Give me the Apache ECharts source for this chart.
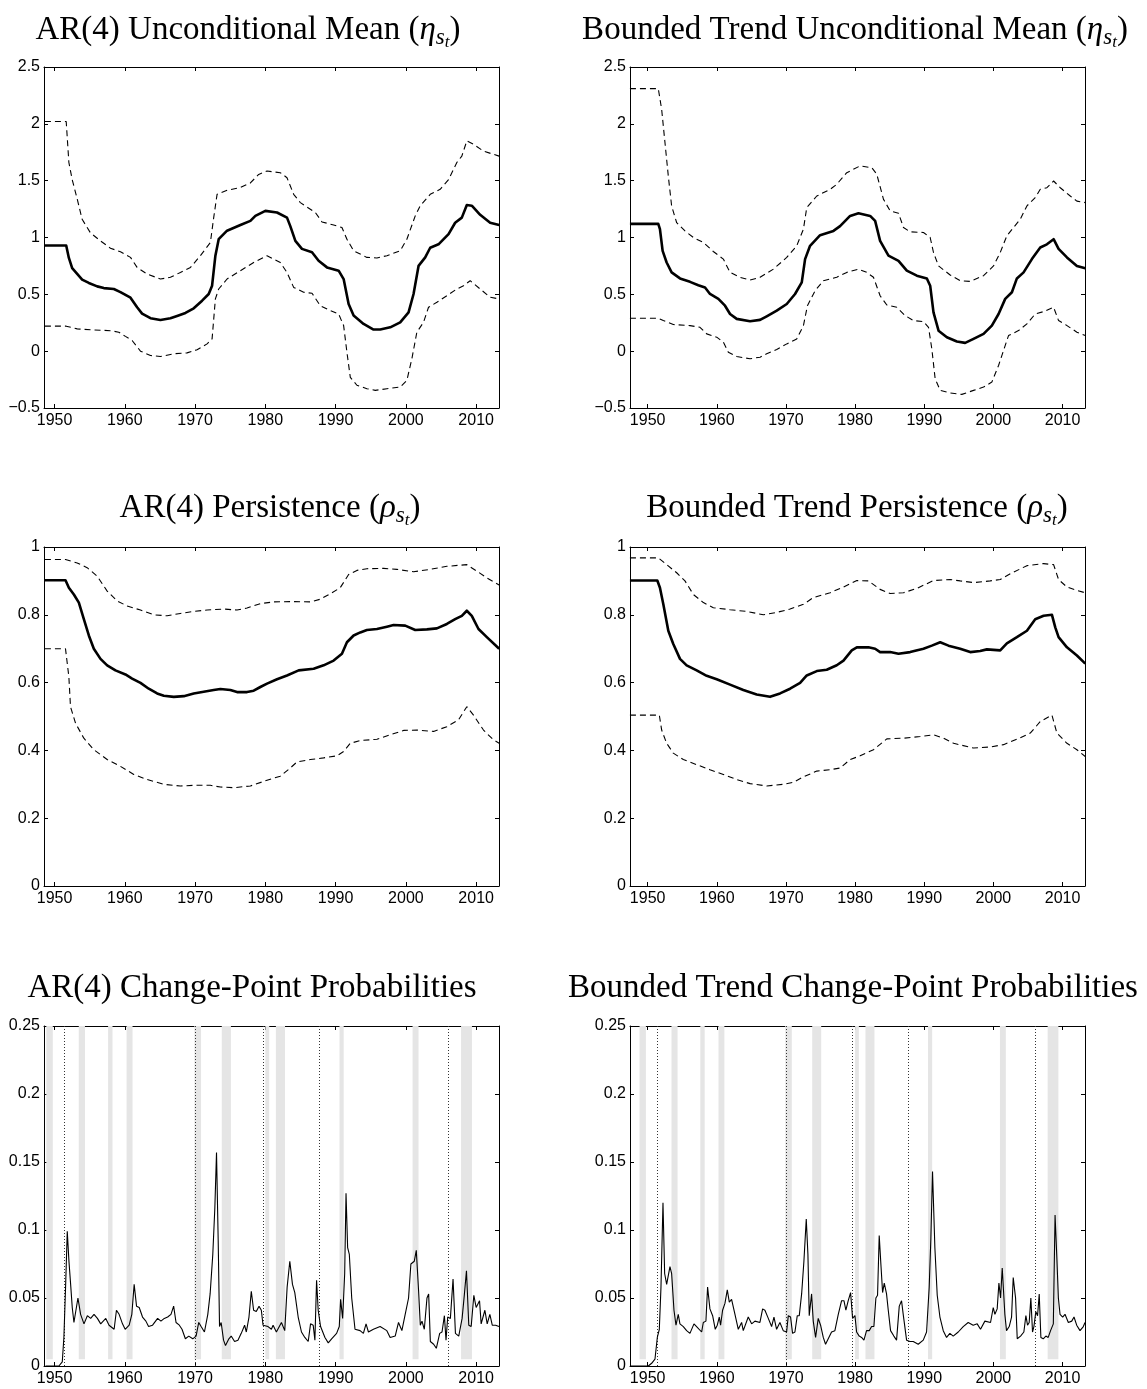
<!DOCTYPE html>
<html>
<head>
<meta charset="utf-8">
<script src="https://cdn.jsdelivr.net/npm/echarts@6/dist/echarts.min.js"></script>
<style>
html,body{margin:0;padding:0;background:#fff;}
#chart{width:1147px;height:1389px;}
</style>
</head>
<body>
<div id="chart"></div>
<script>
// ---------------- DATA ----------------
const xTickYears = [1950, 1960, 1970, 1980, 1990, 2000, 2010];

// AR(4) unconditional mean: [year, value]
const arMeanMid = [[1948.63,0.93],[1951.66,0.93],[1952.04,0.82],[1952.51,0.73],[1953.22,0.68],[1953.93,0.63],[1954.88,0.60],[1956.07,0.57],[1957.01,0.555],[1958.44,0.547],[1959.38,0.52],[1960.81,0.47],[1961.75,0.386],[1962.46,0.33],[1963.65,0.29],[1965.07,0.275],[1966.49,0.29],[1967.44,0.31],[1968.63,0.336],[1969.81,0.377],[1971.0,0.444],[1971.94,0.503],[1972.42,0.576],[1972.89,0.84],[1973.36,0.985],[1974.55,1.06],[1976.45,1.11],[1977.87,1.146],[1978.58,1.19],[1980.0,1.234],[1981.66,1.22],[1983.08,1.175],[1983.55,1.10],[1984.27,0.97],[1985.21,0.90],[1986.64,0.87],[1987.58,0.795],[1988.77,0.737],[1990.43,0.708],[1991.14,0.634],[1991.85,0.415],[1992.56,0.313],[1993.98,0.24],[1995.40,0.19],[1996.35,0.19],[1997.77,0.21],[1999.19,0.254],[2000.38,0.342],[2001.09,0.503],[2001.80,0.75],[2002.75,0.825],[2003.46,0.91],[2004.64,0.94],[2006.07,1.03],[2007.01,1.13],[2007.96,1.175],[2008.67,1.286],[2009.38,1.28],[2010.57,1.2],[2011.99,1.13],[2013.27,1.11]];
const arMeanUp = [[1948.63,2.02],[1951.66,2.02],[1952.04,1.66],[1952.51,1.51],[1953.22,1.34],[1953.93,1.16],[1955.12,1.04],[1956.54,0.97],[1957.96,0.906],[1959.38,0.874],[1960.81,0.825],[1961.75,0.737],[1963.18,0.678],[1965.07,0.635],[1966.49,0.65],[1967.91,0.693],[1969.34,0.737],[1970.76,0.84],[1972.18,0.956],[1972.65,1.175],[1973.13,1.38],[1974.55,1.415],[1976.45,1.44],[1977.87,1.48],[1979.05,1.555],[1980.24,1.585],[1982.13,1.57],[1983.08,1.526],[1984.03,1.38],[1984.98,1.307],[1987.11,1.22],[1988.06,1.137],[1989.72,1.11],[1990.90,1.088],[1991.61,0.985],[1992.56,0.883],[1994.45,0.825],[1995.88,0.82],[1997.30,0.84],[1999.19,0.883],[2000.14,0.985],[2001.33,1.19],[2002.04,1.28],[2003.46,1.38],[2004.88,1.424],[2006.07,1.51],[2007.25,1.66],[2007.96,1.716],[2008.67,1.85],[2009.62,1.82],[2011.04,1.76],[2013.27,1.716]];
const arMeanLo = [[1948.63,0.22],[1951.66,0.22],[1953.22,0.196],[1955.59,0.187],[1957.96,0.18],[1959.15,0.167],[1960.09,0.13],[1961.04,0.094],[1962.23,0.0],[1963.65,-0.038],[1965.07,-0.047],[1966.97,-0.023],[1968.86,-0.015],[1970.28,0.012],[1971.71,0.064],[1972.42,0.108],[1972.89,0.46],[1973.36,0.547],[1974.55,0.635],[1976.45,0.708],[1978.34,0.78],[1980.24,0.84],[1982.13,0.78],[1983.08,0.693],[1984.03,0.561],[1985.45,0.518],[1986.64,0.51],[1987.82,0.40],[1989.24,0.357],[1990.43,0.327],[1991.14,0.225],[1991.61,-0.01],[1992.09,-0.23],[1993.03,-0.30],[1994.45,-0.33],[1995.64,-0.345],[1997.30,-0.33],[1999.19,-0.316],[2000.14,-0.257],[2000.85,-0.067],[2001.56,0.167],[2002.51,0.254],[2003.22,0.386],[2004.41,0.43],[2005.83,0.488],[2007.25,0.547],[2008.20,0.576],[2009.15,0.62],[2010.57,0.547],[2011.99,0.474],[2013.27,0.46]];

// Bounded trend unconditional mean
const btMeanMid = [[1947.44,1.12],[1951.54,1.12],[1951.78,1.073],[1952.17,0.883],[1952.75,0.78],[1953.47,0.693],[1954.68,0.64],[1956.13,0.61],[1957.33,0.58],[1958.30,0.56],[1959.02,0.503],[1960.23,0.46],[1961.19,0.40],[1961.92,0.327],[1962.88,0.284],[1964.81,0.263],[1966.26,0.275],[1967.22,0.307],[1968.67,0.357],[1970.12,0.415],[1971.32,0.503],[1972.29,0.605],[1972.77,0.81],[1973.49,0.927],[1974.94,1.02],[1976.87,1.058],[1977.83,1.10],[1979.28,1.19],[1980.49,1.213],[1982.18,1.19],[1982.90,1.146],[1983.62,0.97],[1984.83,0.84],[1986.28,0.795],[1987.48,0.708],[1988.93,0.664],[1990.38,0.64],[1990.86,0.576],[1991.34,0.342],[1992.07,0.18],[1993.27,0.123],[1994.72,0.085],[1995.92,0.073],[1997.13,0.108],[1998.58,0.152],[1999.78,0.225],[2000.75,0.327],[2001.71,0.46],[2002.68,0.518],[2003.40,0.64],[2004.37,0.693],[2005.57,0.81],[2006.78,0.912],[2007.74,0.94],[2008.71,0.985],[2009.43,0.9],[2010.64,0.825],[2012.08,0.75],[2013.29,0.73]];
const btMeanUp = [[1947.44,2.31],[1951.54,2.31],[1952.03,2.126],[1952.51,1.833],[1952.99,1.54],[1953.47,1.278],[1954.20,1.13],[1955.40,1.058],[1956.61,1.0],[1958.06,0.956],[1959.50,0.877],[1960.95,0.81],[1961.92,0.693],[1963.36,0.65],[1964.81,0.626],[1966.26,0.65],[1968.19,0.722],[1970.12,0.825],[1971.56,0.927],[1972.53,1.073],[1973.01,1.263],[1974.46,1.365],[1976.39,1.424],[1977.35,1.468],[1978.80,1.57],[1980.73,1.63],[1982.42,1.614],[1983.14,1.556],[1984.11,1.336],[1985.07,1.234],[1986.28,1.213],[1987.0,1.088],[1987.96,1.05],[1989.89,1.044],[1990.86,1.0],[1991.34,0.868],[1992.07,0.75],[1993.75,0.67],[1995.20,0.62],[1996.65,0.614],[1998.58,0.664],[2000.02,0.75],[2000.99,0.868],[2001.95,1.015],[2002.92,1.088],[2003.88,1.16],[2004.85,1.278],[2006.05,1.35],[2006.78,1.424],[2007.74,1.438],[2008.71,1.497],[2009.67,1.438],[2011.12,1.365],[2012.08,1.32],[2013.29,1.307]];
const btMeanLo = [[1947.44,0.29],[1951.54,0.29],[1952.27,0.269],[1953.71,0.234],[1956.13,0.225],[1957.57,0.21],[1958.54,0.152],[1959.99,0.123],[1960.95,0.079],[1961.67,-0.009],[1962.88,-0.047],[1964.81,-0.067],[1966.26,-0.053],[1967.22,-0.023],[1968.67,0.015],[1970.12,0.064],[1971.56,0.108],[1972.53,0.225],[1973.11,0.40],[1974.22,0.532],[1975.42,0.62],[1977.35,0.65],[1978.80,0.693],[1980.49,0.722],[1981.69,0.693],[1982.66,0.65],[1983.62,0.488],[1984.59,0.406],[1986.04,0.386],[1987.24,0.313],[1988.45,0.269],[1989.89,0.26],[1990.62,0.21],[1991.10,0.02],[1991.58,-0.243],[1992.31,-0.345],[1993.75,-0.368],[1995.44,-0.38],[1997.13,-0.345],[1998.58,-0.316],[1999.78,-0.272],[2000.75,-0.126],[2001.47,0.006],[2002.19,0.137],[2003.64,0.181],[2004.85,0.24],[2006.05,0.327],[2007.26,0.348],[2008.71,0.386],[2009.43,0.269],[2010.64,0.225],[2012.08,0.167],[2013.29,0.137]];

// AR(4) persistence
const arPersMid = [[1948.63,0.902],[1951.56,0.902],[1952.04,0.880],[1952.75,0.860],[1953.46,0.836],[1954.17,0.787],[1954.88,0.739],[1955.59,0.700],[1956.54,0.670],[1957.49,0.651],[1958.67,0.636],[1960.09,0.624],[1961.04,0.612],[1962.23,0.599],[1963.41,0.582],[1964.60,0.568],[1965.55,0.561],[1966.97,0.558],[1968.39,0.560],[1969.81,0.568],[1971.23,0.573],[1972.65,0.578],[1973.60,0.581],[1975.02,0.578],[1975.97,0.572],[1977.39,0.572],[1978.34,0.576],[1979.29,0.587],[1980.24,0.597],[1981.66,0.610],[1983.08,0.621],[1984.74,0.636],[1986.87,0.641],[1988.29,0.651],[1989.72,0.665],[1990.90,0.685],[1991.61,0.719],[1992.56,0.739],[1993.51,0.748],[1994.45,0.755],[1995.88,0.758],[1997.30,0.765],[1998.25,0.770],[1999.91,0.768],[2001.33,0.755],[2002.99,0.757],[2004.41,0.760],[2005.83,0.773],[2007.01,0.787],[2007.96,0.797],[2008.67,0.812],[2009.38,0.797],[2010.33,0.758],[2011.52,0.734],[2013.27,0.700]];
const arPersUp = [[1948.63,0.963],[1951.56,0.963],[1953.22,0.953],[1954.64,0.939],[1956.07,0.914],[1957.49,0.870],[1958.91,0.841],[1960.33,0.826],[1962.23,0.814],[1964.12,0.800],[1966.02,0.797],[1967.91,0.804],[1969.81,0.810],[1971.71,0.814],[1974.08,0.817],[1975.97,0.814],[1977.39,0.820],[1979.29,0.833],[1981.18,0.838],[1983.55,0.839],[1986.40,0.838],[1987.82,0.846],[1989.24,0.862],[1990.66,0.880],[1991.85,0.919],[1993.03,0.931],[1994.45,0.936],[1996.82,0.937],[1998.72,0.934],[2001.09,0.927],[2003.46,0.934],[2005.83,0.943],[2008.67,0.948],[2010.09,0.929],[2011.52,0.909],[2013.27,0.888]];
const arPersLo = [[1948.63,0.700],[1951.56,0.700],[1952.04,0.617],[1952.27,0.529],[1952.99,0.480],[1954.17,0.436],[1955.59,0.402],[1957.49,0.373],[1959.38,0.353],[1961.28,0.329],[1963.18,0.314],[1965.55,0.300],[1967.91,0.295],[1969.81,0.297],[1972.18,0.297],[1973.60,0.292],[1975.50,0.290],[1977.87,0.295],[1980.24,0.312],[1982.13,0.324],[1983.55,0.348],[1984.50,0.366],[1986.40,0.373],[1988.29,0.378],[1990.19,0.384],[1991.14,0.397],[1992.09,0.421],[1993.51,0.429],[1995.88,0.433],[1997.77,0.446],[1999.67,0.459],[2001.56,0.460],[2003.93,0.456],[2005.83,0.470],[2007.49,0.490],[2008.67,0.529],[2009.62,0.504],[2011.04,0.460],[2012.46,0.431],[2013.27,0.421]];

// Bounded trend persistence
const btPersMid = [[1947.44,0.901],[1951.40,0.901],[1951.78,0.880],[1952.27,0.831],[1952.99,0.753],[1953.71,0.714],[1954.68,0.670],[1955.64,0.651],[1957.09,0.636],[1958.54,0.620],[1959.99,0.610],[1961.92,0.594],[1963.84,0.578],[1965.77,0.565],[1967.70,0.558],[1969.15,0.568],[1970.60,0.582],[1972.05,0.599],[1973.01,0.621],[1974.46,0.634],[1975.90,0.638],[1977.35,0.651],[1978.32,0.665],[1979.52,0.695],[1980.25,0.704],[1981.93,0.704],[1982.90,0.700],[1983.62,0.690],[1985.07,0.690],[1986.28,0.685],[1987.96,0.690],[1989.89,0.700],[1991.10,0.709],[1992.31,0.719],[1993.51,0.709],[1995.20,0.700],[1996.65,0.690],[1998.09,0.693],[1999.06,0.698],[2000.99,0.695],[2001.95,0.716],[2003.40,0.734],[2004.85,0.753],[2006.05,0.787],[2007.26,0.797],[2008.47,0.800],[2008.95,0.763],[2009.43,0.734],[2010.64,0.704],[2012.08,0.680],[2013.29,0.656]];
const btPersUp = [[1947.44,0.968],[1951.54,0.968],[1952.75,0.948],[1954.20,0.924],[1955.40,0.900],[1956.61,0.860],[1958.06,0.836],[1959.50,0.821],[1961.92,0.815],[1964.33,0.810],[1966.74,0.800],[1968.67,0.807],[1970.60,0.817],[1972.53,0.831],[1973.98,0.851],[1976.39,0.865],[1978.32,0.882],[1980.25,0.901],[1981.93,0.900],[1983.62,0.875],[1985.07,0.863],[1987.0,0.865],[1988.93,0.878],[1991.34,0.901],[1993.75,0.904],[1995.20,0.900],[1997.13,0.895],[1999.54,0.900],[2000.99,0.904],[2002.44,0.921],[2004.85,0.945],[2007.26,0.951],[2008.71,0.948],[2009.43,0.904],[2010.64,0.882],[2012.08,0.872],[2013.29,0.865]];
const btPersLo = [[1947.44,0.504],[1951.69,0.504],[1952.03,0.460],[1952.75,0.421],[1953.71,0.392],[1955.16,0.373],[1957.09,0.358],[1959.02,0.343],[1960.95,0.329],[1962.88,0.314],[1964.81,0.302],[1967.22,0.295],[1969.63,0.300],[1971.08,0.306],[1972.53,0.322],[1974.46,0.339],[1976.39,0.343],[1977.83,0.348],[1979.28,0.373],[1980.73,0.384],[1982.66,0.402],[1984.59,0.434],[1987.0,0.436],[1989.41,0.441],[1991.34,0.446],[1992.79,0.436],[1994.24,0.421],[1997.13,0.407],[1999.54,0.410],[2001.47,0.417],[2003.40,0.433],[2005.33,0.451],[2006.78,0.485],[2008.47,0.504],[2009.19,0.451],[2010.64,0.421],[2012.08,0.402],[2013.29,0.382]];

// Change-point probabilities
const arCP = [[1948.71,0],[1950.62,0.0],[1951.10,0.003],[1951.33,0.021],[1951.57,0.058],[1951.81,0.099],[1952.05,0.077],[1952.29,0.060],[1952.52,0.043],[1952.76,0.032],[1953.0,0.033],[1953.33,0.050],[1953.71,0.038],[1954.19,0.031],[1954.67,0.037],[1955.14,0.035],[1955.62,0.038],[1956.10,0.035],[1956.57,0.031],[1957.29,0.035],[1957.76,0.030],[1958.48,0.027],[1958.81,0.041],[1959.19,0.038],[1959.67,0.031],[1960.05,0.027],[1960.62,0.030],[1961.0,0.038],[1961.33,0.060],[1961.67,0.044],[1962.05,0.043],[1962.52,0.036],[1963.0,0.033],[1963.38,0.029],[1963.95,0.030],[1964.67,0.035],[1965.14,0.033],[1965.62,0.035],[1966.10,0.036],[1966.57,0.038],[1966.95,0.044],[1967.29,0.032],[1967.76,0.030],[1968.14,0.027],[1968.62,0.020],[1969.10,0.022],[1969.67,0.020],[1970.14,0.022],[1970.52,0.032],[1970.86,0.029],[1971.33,0.025],[1971.81,0.038],[1972.14,0.053],[1972.52,0.082],[1972.81,0.116],[1973.05,0.157],[1973.29,0.092],[1973.48,0.029],[1973.71,0.032],[1974.05,0.019],[1974.33,0.015],[1974.81,0.020],[1975.14,0.022],[1975.62,0.018],[1976.10,0.019],[1976.57,0.024],[1977.05,0.030],[1977.29,0.025],[1977.67,0.036],[1978.0,0.055],[1978.33,0.041],[1978.71,0.040],[1979.10,0.044],[1979.43,0.041],[1979.67,0.030],[1980.38,0.029],[1980.86,0.027],[1981.10,0.030],[1981.57,0.025],[1982.29,0.032],[1982.76,0.026],[1983.10,0.058],[1983.48,0.077],[1983.86,0.060],[1984.19,0.054],[1984.67,0.036],[1985.14,0.025],[1985.62,0.021],[1986.10,0.018],[1986.43,0.031],[1986.81,0.030],[1987.05,0.019],[1987.29,0.063],[1987.52,0.041],[1987.86,0.029],[1988.48,0.021],[1988.95,0.017],[1989.43,0.020],[1990.14,0.024],[1990.52,0.029],[1990.71,0.049],[1991.0,0.035],[1991.29,0.068],[1991.48,0.127],[1991.71,0.087],[1991.95,0.082],[1992.29,0.050],[1992.76,0.027],[1993.48,0.026],[1993.95,0.024],[1994.33,0.031],[1994.67,0.025],[1995.38,0.027],[1996.33,0.029],[1997.29,0.026],[1997.76,0.021],[1998.48,0.022],[1998.95,0.032],[1999.43,0.026],[1999.90,0.038],[2000.38,0.050],[2000.71,0.075],[2001.19,0.077],[2001.48,0.085],[2001.81,0.055],[2002.05,0.030],[2002.29,0.033],[2002.62,0.027],[2003.0,0.050],[2003.24,0.053],[2003.48,0.018],[2003.95,0.016],[2004.33,0.013],[2004.81,0.024],[2005.14,0.025],[2005.48,0.037],[2005.71,0.019],[2005.95,0.036],[2006.33,0.035],[2006.71,0.064],[2007.05,0.024],[2007.52,0.022],[2008.0,0.035],[2008.33,0.053],[2008.62,0.070],[2008.95,0.030],[2009.29,0.029],[2009.67,0.052],[2010.0,0.043],[2010.48,0.048],[2010.71,0.031],[2011.24,0.041],[2011.57,0.031],[2011.95,0.038],[2012.29,0.030],[2012.76,0.030],[2013.25,0.029]];
const btCP = [[1947.59,0],[1950.10,0.0],[1950.58,0.002],[1951.06,0.005],[1951.40,0.021],[1951.69,0.027],[1951.93,0.058],[1952.22,0.120],[1952.46,0.068],[1952.75,0.060],[1952.99,0.060],[1953.23,0.073],[1953.47,0.068],[1953.81,0.041],[1954.10,0.030],[1954.43,0.038],[1954.67,0.031],[1955.16,0.029],[1955.64,0.026],[1956.12,0.024],[1956.70,0.031],[1957.08,0.029],[1957.81,0.025],[1958.05,0.032],[1958.43,0.033],[1958.67,0.058],[1959.01,0.042],[1959.40,0.037],[1959.78,0.027],[1960.07,0.030],[1960.36,0.036],[1960.55,0.030],[1960.84,0.041],[1961.18,0.046],[1961.52,0.056],[1961.81,0.047],[1962.14,0.049],[1962.63,0.038],[1963.11,0.027],[1963.35,0.027],[1963.59,0.032],[1963.83,0.026],[1964.55,0.036],[1965.04,0.031],[1965.52,0.033],[1966.24,0.032],[1966.63,0.042],[1966.96,0.041],[1967.45,0.035],[1967.93,0.029],[1968.27,0.036],[1968.65,0.027],[1969.13,0.032],[1969.61,0.026],[1970.10,0.025],[1970.34,0.037],[1970.67,0.036],[1970.96,0.024],[1971.30,0.025],[1971.64,0.037],[1971.93,0.037],[1972.27,0.053],[1972.60,0.077],[1972.94,0.108],[1973.18,0.082],[1973.37,0.037],[1973.71,0.053],[1973.95,0.033],[1974.29,0.021],[1974.67,0.035],[1975.01,0.030],[1975.40,0.021],[1975.73,0.016],[1976.12,0.020],[1976.60,0.025],[1977.08,0.026],[1977.57,0.038],[1978.05,0.048],[1978.39,0.048],[1978.67,0.041],[1979.01,0.048],[1979.35,0.054],[1979.64,0.035],[1979.98,0.037],[1980.22,0.025],[1980.60,0.022],[1980.94,0.021],[1981.28,0.019],[1981.66,0.026],[1982.05,0.026],[1982.39,0.029],[1982.72,0.029],[1983.01,0.050],[1983.25,0.052],[1983.49,0.096],[1983.73,0.075],[1983.98,0.054],[1984.22,0.061],[1984.55,0.053],[1984.80,0.041],[1985.13,0.026],[1985.61,0.022],[1986.0,0.019],[1986.39,0.044],[1986.72,0.048],[1986.96,0.038],[1987.20,0.038],[1987.45,0.019],[1987.93,0.018],[1988.41,0.018],[1989.13,0.016],[1989.86,0.019],[1990.34,0.025],[1990.72,0.058],[1990.96,0.094],[1991.20,0.143],[1991.54,0.087],[1991.88,0.052],[1992.27,0.036],[1992.75,0.026],[1993.23,0.021],[1993.71,0.024],[1994.19,0.022],[1994.92,0.025],[1995.64,0.029],[1996.36,0.032],[1997.08,0.030],[1997.66,0.031],[1998.14,0.027],[1998.77,0.033],[1999.59,0.032],[1999.98,0.043],[2000.22,0.038],[2000.55,0.042],[2000.80,0.061],[2001.04,0.050],[2001.28,0.072],[2001.66,0.038],[2001.90,0.026],[2002.29,0.029],[2002.63,0.036],[2002.87,0.065],[2003.21,0.050],[2003.45,0.020],[2003.93,0.022],[2004.41,0.025],[2004.70,0.037],[2004.94,0.030],[2005.18,0.032],[2005.42,0.050],[2005.66,0.025],[2005.86,0.029],[2006.14,0.040],[2006.39,0.037],[2006.63,0.053],[2006.87,0.021],[2007.21,0.020],[2007.59,0.022],[2007.93,0.021],[2008.27,0.026],[2008.67,0.031],[2008.92,0.111],[2009.16,0.082],[2009.40,0.050],[2009.64,0.038],[2010.02,0.036],[2010.36,0.038],[2010.84,0.032],[2011.33,0.033],[2011.66,0.036],[2012.05,0.030],[2012.53,0.026],[2013.01,0.029],[2013.25,0.032]];

// NBER recessions [start, end] and Fed chair changes
const recessions = [[1948.83,1949.75],[1953.45,1954.33],[1957.62,1958.25],[1960.25,1961.1],[1969.9,1970.85],[1973.8,1975.1],[1980.0,1980.55],[1981.5,1982.8],[1990.55,1991.15],[2000.95,2001.8],[2007.85,2009.4]];
const fedChairs = [1951.3, 1970.05, 1979.6, 1987.6, 2006.05];

const titles = [
  ['AR(4) Unconditional Mean (', 'η'],
  ['Bounded Trend Unconditional Mean (', 'η'],
  ['AR(4) Persistence (', 'ρ'],
  ['Bounded Trend Persistence (', 'ρ'],
  ['AR(4) Change-Point Probabilities', null],
  ['Bounded Trend Change-Point Probabilities', null]
];

// ---------------- LAYOUT ----------------
const SERIF = '"Liberation Serif", "DejaVu Serif", serif';
const SANS = '"Liberation Sans", Arial, sans-serif';
const colLeft = [44, 630];
const rowTop = [67, 547, 1026];
const rowH = [341, 339, 340];
const W = 455;
const titleCenters = [[248, 855], [270, 857], [252, 853]];
const titleTops = [9, 487, 967];
const xRanges = [[1948.5, 2013.25], [1947.45, 2013.25]];
const yRanges = [[-0.5, 2.5, 0.5], [0, 1, 0.2], [0, 0.25, 0.05]];

const grids = [], xAxes = [], yAxes = [], series = [], titleOpts = [];
const TF = 33;
const rich = {
  n: {fontFamily: SERIF, fontSize: TF, lineHeight: 43, color: '#000'},
  i: {fontFamily: SERIF, fontStyle: 'italic', fontSize: TF, lineHeight: 43, color: '#000'},
  s: {fontFamily: SERIF, fontStyle: 'italic', fontSize: 23, lineHeight: 23, verticalAlign: 'bottom', padding: [0, 0, 3, 0], color: '#000'},
  t: {fontFamily: SERIF, fontStyle: 'italic', fontSize: 17, lineHeight: 17, verticalAlign: 'bottom', padding: [0, 0, 1, 0], color: '#000'}
};
const fmtY = v => String(Math.round(v * 1000) / 1000).replace('-', '\u2212');

const panelData = [
  [arMeanMid, arMeanUp, arMeanLo], [btMeanMid, btMeanUp, btMeanLo],
  [arPersMid, arPersUp, arPersLo], [btPersMid, btPersUp, btPersLo],
  [arCP], [btCP]
];

for (let p = 0; p < 6; p++) {
  const r = Math.floor(p / 2), c = p % 2;
  grids.push({left: colLeft[c], top: rowTop[r], width: W, height: rowH[r], containLabel: false});
  const [xmin, xmax] = xRanges[c];
  const [ymin, ymax, yint] = yRanges[r];
  const common = {gridIndex: p, type: 'value', min: xmin, max: xmax,
    axisLine: {show: true, onZero: false, lineStyle: {color: '#000', width: 1}},
    splitLine: {show: false}};
  xAxes.push(Object.assign({}, common, {position: 'bottom',
    axisTick: {show: true, inside: true, length: 4, customValues: xTickYears, lineStyle: {color: '#000'}},
    axisLabel: {show: true, customValues: xTickYears, color: '#000', fontFamily: SANS, fontSize: 16, margin: 5, formatter: v => String(v)}}));
  xAxes.push(Object.assign({}, common, {position: 'top',
    axisTick: {show: true, inside: true, length: 4, customValues: xTickYears, lineStyle: {color: '#000'}},
    axisLabel: {show: false}}));
  const ycommon = {gridIndex: p, type: 'value', min: ymin, max: ymax, interval: yint,
    axisLine: {show: true, onZero: false, lineStyle: {color: '#000', width: 1}},
    axisTick: {show: true, inside: true, length: 4, lineStyle: {color: '#000'}},
    splitLine: {show: false}};
  yAxes.push(Object.assign({}, ycommon, {position: 'left',
    axisLabel: {show: true, color: '#000', fontFamily: SANS, fontSize: 16, margin: 4, formatter: fmtY}}));
  yAxes.push(Object.assign({}, ycommon, {position: 'right', axisLabel: {show: false}}));

  const xi = 2 * p, yi = 2 * p;
  const pd = panelData[p];
  if (pd.length === 3) {
    series.push({type: 'line', xAxisIndex: xi, yAxisIndex: yi, data: pd[1], symbol: 'none', z: 2,
      lineStyle: {color: '#000', width: 1.1, type: [6, 4]}, animation: false});
    series.push({type: 'line', xAxisIndex: xi, yAxisIndex: yi, data: pd[2], symbol: 'none', z: 2,
      lineStyle: {color: '#000', width: 1.1, type: [6, 4]}, animation: false});
    series.push({type: 'line', xAxisIndex: xi, yAxisIndex: yi, data: pd[0], symbol: 'none', z: 3,
      lineStyle: {color: '#000', width: 2.6, join: 'round'}, animation: false});
  } else {
    series.push({type: 'custom', xAxisIndex: xi, yAxisIndex: yi, data: recessions, z: 1, clip: true,
      encode: {x: [0, 1]}, silent: true, animation: false,
      renderItem: (params, api) => {
        const a = api.coord([api.value(0), 0.005]);
        const b = api.coord([api.value(1), 0.25]);
        return {type: 'rect', shape: {x: a[0], y: b[1], width: b[0] - a[0], height: a[1] - b[1]},
          style: {fill: '#e5e5e5'}};
      }});
    series.push({type: 'custom', xAxisIndex: xi, yAxisIndex: yi, data: fedChairs.map(v => [v]), z: 1.5, clip: true,
      encode: {x: 0}, silent: true, animation: false,
      renderItem: (params, api) => {
        const a = api.coord([api.value(0), 0]);
        const b = api.coord([api.value(0), 0.25]);
        return {type: 'line', shape: {x1: Math.round(a[0]) + 0.5, y1: a[1], x2: Math.round(a[0]) + 0.5, y2: b[1]},
          style: {stroke: '#333', lineWidth: 1, lineDash: [1, 2]}};
      }});
    series.push({type: 'line', xAxisIndex: xi, yAxisIndex: yi, data: pd[0], symbol: 'none', z: 3,
      lineStyle: {color: '#000', width: 1.1}, animation: false});
  }

  const [main, greek] = titles[p];
  const text = greek ? `{n|${main}}{i|${greek}}{s|s}{t|t}{n|)}` : `{n|${main}}`;
  titleOpts.push({text: text, left: titleCenters[r][c], top: titleTops[r], textAlign: 'center',
    padding: 0, textStyle: {rich: rich, fontFamily: SERIF, fontSize: TF, fontWeight: 'normal', color: '#000'}});
}

const chart = echarts.init(document.getElementById('chart'), null, {renderer: 'canvas'});
chart.setOption({
  backgroundColor: '#fff',
  animation: false,
  title: titleOpts,
  grid: grids,
  xAxis: xAxes,
  yAxis: yAxes,
  series: series
});
</script>
</body>
</html>
